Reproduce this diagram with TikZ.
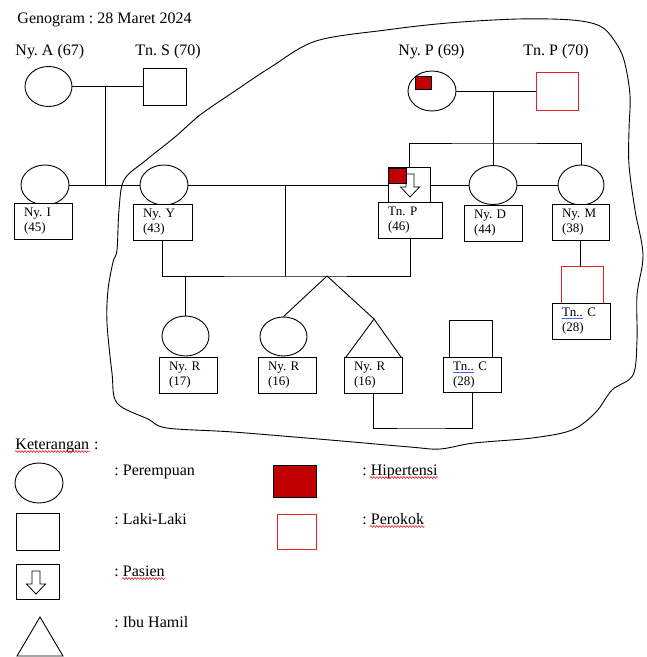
\documentclass[tikz,border=0pt]{standalone}
\usepackage{fontspec}
\setmainfont{Liberation Serif}
\frenchspacing
\usetikzlibrary{shapes.geometric,decorations.pathmorphing}
\definecolor{hiper}{RGB}{192,0,0}
\definecolor{rokok}{RGB}{225,35,35}
\definecolor{ulblue}{RGB}{60,110,220}
\newcommand{\tnul}{{\color{ulblue}\underline{\textcolor{black}{Tn..}}}}
\begin{document}
\begin{tikzpicture}[x=1pt,y=-1pt,line width=0.9pt,
  big/.style={font=\fontsize{16}{19}\selectfont, inner sep=0pt, anchor=base west},
  fem/.style={draw, ellipse, minimum width=48pt, minimum height=40pt, inner sep=0pt},
  mal/.style={draw, rectangle, minimum width=43pt, minimum height=37pt, inner sep=0pt},
  lbox/.style={draw, rectangle, fill=white, minimum height=36pt, inner xsep=10pt, inner ysep=0pt,
    text width=#1, align=left, anchor=north, font=\fontsize{13}{15}\selectfont},
  hip/.style={draw, fill=hiper, rectangle, inner sep=0pt, line width=0.8pt},
  wavy/.style={draw=red!90!black, line width=0.5pt, decorate,
    decoration={snake, amplitude=0.9pt, segment length=3pt}},
  pasarrow/.pic={\draw[fill=white, line width=0.8pt] (-4,0) -- (-4,13) -- (-9.5,13) -- (0,23) -- (9.5,13) -- (4,13) -- (4,0) -- cycle;}
]
\useasboundingbox (0,0) rectangle (647,657);

% title
\node[big] (title) at (17,23) {Genogram : 28 Maret 2024};

% boundary
\draw plot[smooth cycle, tension=0.55] coordinates {
 (117,250) (119,210) (124,180) (145,161) (175,137) (200,115) (232,93) (271,67) (316,41)
 (386,30) (448,23) (518,19) (572,20) (600,26) (614,40) (624,60) (630,95) (629,130)
 (629,165) (635,210) (643,255) (637,295) (637,340) (633,375) (612,390) (596,412)
 (572,430) (532,438) (474,443) (440,449) (410,447) (330,440) (233,432) (167,428)
 (148,419) (117,403) (112,373) (107,323) (108,290) (113,262)};

% generation 1 left
\node[big] (lA) at (15,55) {Ny. A (67)};
\node[big] (lS) at (135,55) {Tn. S (70)};
\node[fem, minimum width=47pt] (nyA) at (48.5,86.5) {};
\node[mal] (tnS) at (164.5,86.5) {};
\draw (nyA.east) -- (tnS.west);
\coordinate (mAS) at (105,86.5);

% generation 1 right
\node[big] (lP) at (398,55) {Ny. P (69)};
\node[big] (lPP) at (523,55) {Tn. P (70)};
\node[fem] (nyP) at (432,91) {};
\node[mal, draw=rokok, minimum width=42pt, minimum height=38pt] (tnPP) at (557,91) {};
\node[hip, minimum width=16pt, minimum height=13pt] (hP) at (423,82.5) {};
\draw (nyP.east) -- (tnPP.west);
\coordinate (mP) at (493,91);
\coordinate (sib) at (493,143);

% generation 2
\node[fem] (nyI) at (45,185) {};
\node[lbox=38pt] (nyIb) at (43,203) {Ny. I\\(45)};
\node[fem] (nyY) at (164,185) {};
\node[lbox=39pt] (nyYb) at (162.5,204) {Ny. Y\\(43)};
\node[mal, minimum width=42pt, minimum height=35pt] (tnP) at (409,185) {};
\node[lbox=44pt] (tnPb) at (410,202) {Tn. P\\(46)};
\pic at (410,174) {pasarrow};
\node[hip, minimum width=18pt, minimum height=15pt] (hT) at (397,175.5) {};
\node[fem, minimum height=39pt] (nyD) at (493,185) {};
\node[lbox=38pt] (nyDb) at (493,205) {Ny. D\\(44)};
\node[fem, minimum width=46pt] (nyM) at (581,185) {};
\node[lbox=37pt] (nyMb) at (580.5,204) {Ny. M\\(38)};

\draw (mAS) -- (mAS |- nyI.east);
\draw (nyI.east) -- (nyY.west);
\draw (nyY.east) -- (tnP.west);
\draw (tnP.east) -- (nyD.west);
\draw (nyD.east) -- (nyM.west);
\draw (mP) -- (sib);
\draw (tnP.north) |- (sib) -| (nyM.north);
\draw (sib) -- (nyD.north);

% generation 3
\coordinate (mY) at (285,185);
\coordinate (kids) at (285,276);
\draw (mY) -- (kids);
\draw (nyYb.south) |- (kids) -| (tnPb.south);

\node[fem, minimum width=47pt] (nyR1) at (185.5,336) {};
\node[lbox=38pt] (nyR1b) at (188,357) {Ny. R\\(17)};
\draw (nyR1.north |- kids) -- (nyR1.north);

\node[fem, minimum width=47pt, minimum height=39pt] (nyR2) at (283.5,336.5) {};
\coordinate (tw) at (327,276);
\coordinate (t3a) at (374,319);
\coordinate (t3l) at (346,357);
\coordinate (t3r) at (401,357);
\draw (nyR2.north) -- (tw) -- (t3a);
\draw (t3l) -- (t3a) -- (t3r);
\node[lbox=38pt] (nyR2b) at (287,357) {Ny. R\\(16)};
\node[lbox=38pt] (nyR3b) at (373,357) {Ny. R\\(16)};

\node[mal] (tnC1) at (470.5,338.5) {};
\node[lbox=38pt, minimum height=35pt] (tnC1b) at (472,357) {\tnul{} C\\(28)};
\coordinate (ml) at (420,428);
\draw (nyR3b.south) |- (ml) -| (tnC1b.south);

\node[mal, draw=rokok, minimum width=42pt] (tnC2) at (582,284.5) {};
\node[lbox=38pt] (tnC2b) at (581,303) {\tnul{} C\\(28)};
\draw (nyMb.south) -- (nyMb.south |- tnC2.north);

% legend
\node[big] (ket) at (15,449) {Keterangan};
\node[big] (ketc) at (ket.base east) {\ :};
\draw[wavy] ([yshift=-2.5pt]ket.base west) -- ([yshift=-2.5pt]ket.base east);

\node[fem] (lgF) at (39,483) {};
\node[mal] (lgM) at (37.5,531.5) {};
\node[mal, minimum height=35pt] (lgP) at (37.5,581.5) {};
\pic at (36,571) {pasarrow};
\draw (17,656) -- (40,617) -- (63,656) -- cycle;

\node[big] (tF) at (114,475) {: Perempuan};
\node[big] (tM) at (114,524) {: Laki-Laki};
\node[big] (tPs) at (114,576) {: Pasien};
\node[big] (tH) at (114,627) {: Ibu Hamil};
\draw[wavy] ([xshift=8pt,yshift=-2.5pt]tPs.base west) -- ([yshift=-2.5pt]tPs.base east);

\node[hip, minimum width=43pt, minimum height=32pt] (lgH) at (294.5,481) {};
\node[mal, draw=rokok, minimum width=39pt, minimum height=35pt] (lgR) at (296.5,531.5) {};
\node[big] (tHp) at (362,475) {: Hipertensi};
\node[big] (tRk) at (362,524) {: Perokok};
\draw[wavy] ([xshift=8pt,yshift=-2.5pt]tHp.base west) -- ([yshift=-2.5pt]tHp.base east);
\draw[wavy] ([xshift=8pt,yshift=-2.5pt]tRk.base west) -- ([yshift=-2.5pt]tRk.base east);
\end{tikzpicture}
\end{document}
